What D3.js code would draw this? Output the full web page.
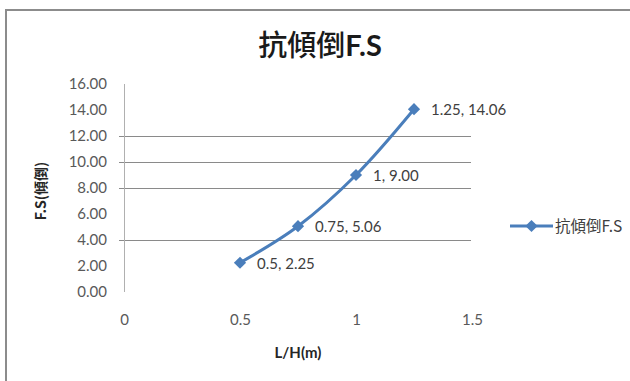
<!DOCTYPE html>
<html>
<head>
<meta charset="utf-8">
<script src="https://cdn.jsdelivr.net/npm/d3@7"></script>
<style>
  html, body { margin: 0; padding: 0; background: #fff; }
  svg { display: block; }
</style>
</head>
<body>
<svg id="chart" width="630" height="381"></svg>
<script>
// L/H ratio against overturning safety factor
const ratioLH = [0.5, 0.75, 1, 1.25];
const safetyFS = [2.25, 5.06, 9.00, 14.06];
const pointLabels = ["0.5, 2.25", "0.75, 5.06", "1, 9.00", "1.25, 14.06"];
const yTicks = [0, 2, 4, 6, 8, 10, 12, 14, 16];
const yGridLines = [4, 8, 10, 12];
const xTicks = [0, 0.5, 1, 1.5];
const seriesName = "抗傾倒F.S";

const svg = d3.select("#chart");
const numFont = "Lato, 'Liberation Sans', sans-serif";
const cjkFont = "'Noto Sans CJK TC', 'Noto Sans CJK SC', sans-serif";
const lineColor = "#4a7ebb";

// outer chart frame
svg.append("rect")
  .attr("x", 6).attr("y", 10).attr("width", 640).attr("height", 390)
  .attr("fill", "none").attr("stroke", "#8c8c8c").attr("stroke-width", 2);

const x = d3.scaleLinear().domain([0, 1.5]).range([124, 472]);
const y = d3.scaleLinear().domain([0, 16]).range([292, 84]);

// horizontal gridlines
svg.append("g").selectAll("line").data(yGridLines).join("line")
  .attr("x1", 119).attr("x2", 471)
  .attr("y1", d => y(d) + 0.5).attr("y2", d => y(d) + 0.5)
  .attr("stroke", "#8a8a8a").attr("stroke-width", 1);

// vertical value axis
svg.append("line")
  .attr("x1", x(0) + 0.5).attr("x2", x(0) + 0.5)
  .attr("y1", y(16)).attr("y2", y(0))
  .attr("stroke", "#b0b0b0").attr("stroke-width", 1);

// y tick labels
const yAxis = d3.axisLeft(y).tickValues(yTicks).tickFormat(d3.format(".2f")).tickSize(0).tickPadding(17);
const gy = svg.append("g").attr("transform", `translate(${x(0)},0)`).call(yAxis);
gy.select(".domain").remove();
gy.selectAll("text")
  .attr("font-family", numFont).attr("font-size", 15).attr("fill", "#595959");

// x tick labels
const xAxis = d3.axisBottom(x).tickValues(xTicks).tickFormat(d => String(d)).tickSize(0).tickPadding(22);
const gx = svg.append("g").attr("transform", `translate(0,${y(0)})`).call(xAxis);
gx.select(".domain").remove();
gx.selectAll("text")
  .attr("font-family", numFont).attr("font-size", 15).attr("fill", "#595959");

// title
const title = svg.append("text")
  .attr("x", 320).attr("y", 56).attr("text-anchor", "middle")
  .attr("font-family", cjkFont).attr("font-size", 29)
  .attr("fill", "#1a1a1a");
title.append("tspan").attr("font-weight", 500).text("抗傾倒");
title.append("tspan").attr("font-weight", "bold").attr("font-family", numFont).text("F.S");

// axis titles
svg.append("text")
  .attr("transform", "translate(46,191) rotate(-90)")
  .attr("text-anchor", "middle")
  .attr("font-family", cjkFont).attr("font-weight", "bold").attr("font-size", 14)
  .attr("fill", "#262626").text("F.S(傾倒)");

svg.append("text")
  .attr("x", 298).attr("y", 358).attr("text-anchor", "middle")
  .attr("font-family", numFont).attr("font-weight", "bold").attr("font-size", 15)
  .attr("fill", "#262626").text("L/H(m)");

// data series
const pts = ratioLH.map((v, i) => ({ x: v, y: safetyFS[i], label: pointLabels[i] }));
const line = d3.line().x(d => x(d.x)).y(d => y(d.y)).curve(d3.curveCatmullRom.alpha(0.5));
svg.append("path").datum(pts)
  .attr("d", line).attr("fill", "none")
  .attr("stroke", lineColor).attr("stroke-width", 3).attr("stroke-linecap", "round");

const diamond = d3.symbol().type(d3.symbolDiamond2).size(95);
svg.append("g").selectAll("path").data(pts).join("path")
  .attr("d", diamond)
  .attr("transform", d => `translate(${x(d.x)},${y(d.y)})`)
  .attr("fill", lineColor);

svg.append("g").selectAll("text").data(pts).join("text")
  .attr("x", d => x(d.x) + 17).attr("y", d => y(d.y) + 6)
  .attr("font-family", numFont).attr("font-size", 15).attr("fill", "#404040")
  .text(d => d.label);

// legend
const lg = svg.append("g").attr("transform", "translate(510,226)");
lg.append("line").attr("x1", 0).attr("x2", 43).attr("y1", 0).attr("y2", 0)
  .attr("stroke", lineColor).attr("stroke-width", 3);
lg.append("path").attr("d", diamond).attr("transform", "translate(21.5,0)").attr("fill", lineColor);
lg.append("text").attr("x", 45).attr("y", 6)
  .attr("font-family", cjkFont).attr("font-size", 15.5).attr("fill", "#404040")
  .text(seriesName);
</script>
</body>
</html>
